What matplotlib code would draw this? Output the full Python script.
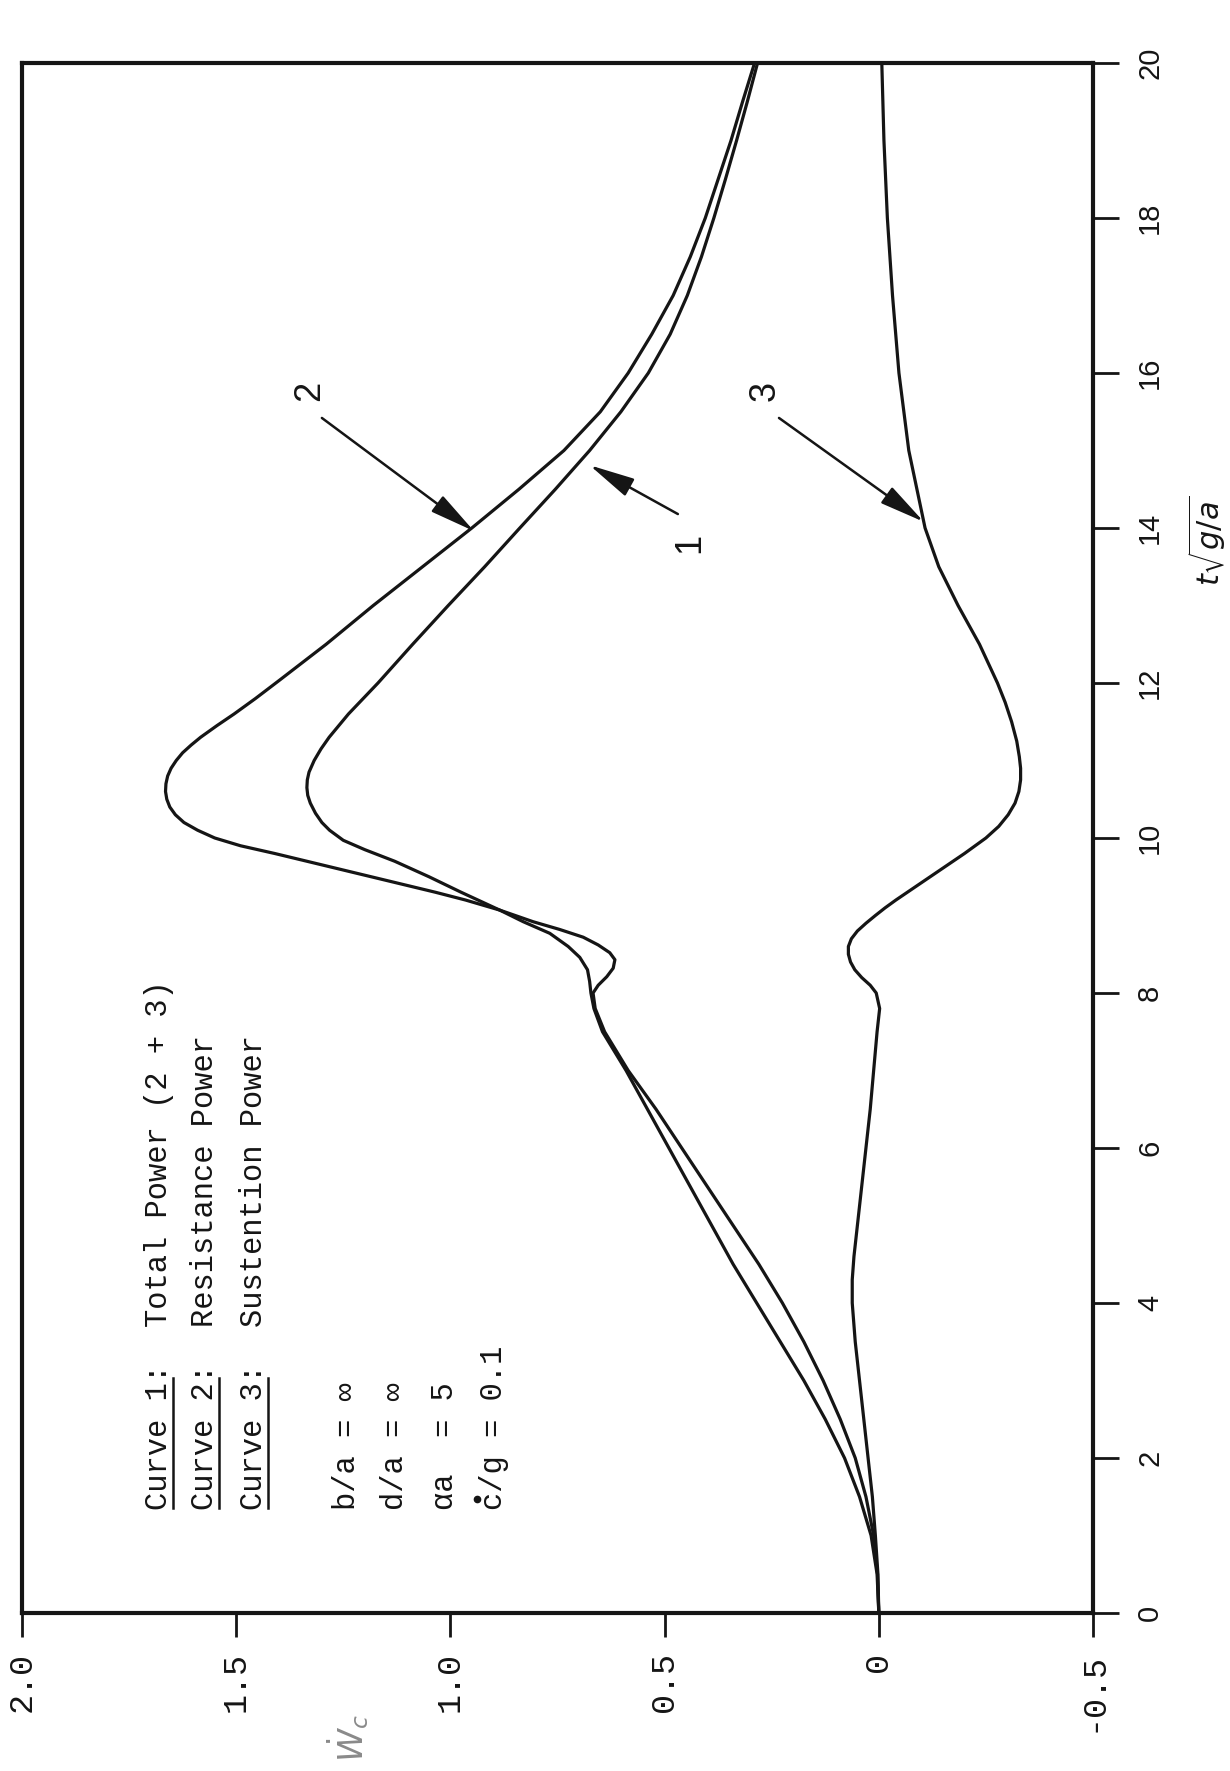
import numpy as np
import matplotlib.pyplot as plt
from matplotlib.lines import Line2D

# Curve 1: total power (2 + 3)
t_total = [0, 0.5, 1, 1.5, 2, 2.5, 3, 3.5, 4, 4.5, 5, 5.5, 6, 6.5, 7, 7.5,
           7.8, 8.0, 8.15, 8.3, 8.46, 8.6, 8.77, 8.92, 9.07, 9.3, 9.5, 9.7,
           9.85, 9.97, 10.1, 10.2, 10.32, 10.45, 10.55, 10.65, 10.75, 10.85,
           11.0, 11.15, 11.3, 11.6, 12.0, 12.5, 13, 13.5, 14, 14.5, 15, 15.5,
           16, 16.5, 17, 17.5, 18, 18.5, 19, 19.5, 20]
w_total = [0, 0.004, 0.018, 0.045, 0.08, 0.125, 0.175, 0.23, 0.285, 0.34,
           0.39, 0.44, 0.49, 0.54, 0.59, 0.645, 0.665, 0.672, 0.675, 0.68,
           0.698, 0.725, 0.768, 0.83, 0.885, 0.975, 1.05, 1.13, 1.2, 1.25,
           1.282, 1.30, 1.315, 1.327, 1.333, 1.335, 1.334, 1.33, 1.318,
           1.302, 1.283, 1.238, 1.169, 1.088, 1.005, 0.92, 0.838, 0.755,
           0.675, 0.602, 0.538, 0.487, 0.447, 0.414, 0.385, 0.358, 0.332,
           0.307, 0.283]

# Curve 2: resistance power
t_resist = [0, 0.5, 1, 1.5, 2, 2.5, 3, 3.5, 4, 4.5, 5, 5.5, 6, 6.5, 7, 7.5,
            7.8, 8.0, 8.1, 8.21, 8.32, 8.43, 8.52, 8.62, 8.72, 8.82, 8.92,
            9.07, 9.2, 9.3, 9.4, 9.5, 9.6, 9.7, 9.8, 9.9, 10.0, 10.1, 10.2,
            10.3, 10.4, 10.5, 10.6, 10.7, 10.8, 10.9, 11.0, 11.1, 11.2, 11.3,
            11.45, 11.6, 11.8, 12.04, 12.5, 13, 13.5, 14, 14.5, 15, 15.5, 16,
            16.5, 17, 17.5, 18, 18.5, 19, 19.5, 20]
w_resist = [0, 0.003, 0.012, 0.03, 0.055, 0.09, 0.13, 0.175, 0.225, 0.28,
            0.34, 0.40, 0.46, 0.52, 0.585, 0.64, 0.662, 0.667, 0.655, 0.635,
            0.62, 0.616, 0.628, 0.655, 0.69, 0.745, 0.807, 0.885, 0.965,
            1.035, 1.11, 1.185, 1.26, 1.335, 1.41, 1.49, 1.55, 1.59, 1.622,
            1.642, 1.655, 1.662, 1.665, 1.664, 1.66, 1.652, 1.64, 1.625,
            1.605, 1.583, 1.545, 1.505, 1.455, 1.398, 1.29, 1.18, 1.065, 0.95,
            0.84, 0.735, 0.65, 0.585, 0.53, 0.48, 0.44, 0.405, 0.375, 0.345,
            0.318, 0.29]

# Curve 3: sustention power
t_sust = [0, 0.5, 1, 1.5, 2, 2.5, 3, 3.5, 4, 4.3, 4.6, 5, 5.5, 6, 6.5, 7,
          7.5, 7.8, 8.0, 8.1, 8.2, 8.3, 8.4, 8.5, 8.6, 8.7, 8.8, 8.9, 9.0,
          9.1, 9.2, 9.35, 9.5, 9.65, 9.8, 10.0, 10.15, 10.3, 10.45, 10.6,
          10.75, 10.9, 11.05, 11.25, 11.5, 11.75, 12.0, 12.5, 13, 13.5, 14,
          15, 16, 17, 18, 19, 20]
w_sust = [0, 0.002, 0.008, 0.015, 0.025, 0.035, 0.045, 0.055, 0.062, 0.062,
          0.058, 0.05, 0.04, 0.03, 0.02, 0.012, 0.004, -0.002, 0.006, 0.02,
          0.04, 0.056, 0.066, 0.071, 0.071, 0.064, 0.05, 0.03, 0.008,
          -0.015, -0.04, -0.08, -0.12, -0.16, -0.2, -0.25, -0.28, -0.302,
          -0.318, -0.327, -0.331, -0.331, -0.328, -0.322, -0.31, -0.295,
          -0.277, -0.235, -0.185, -0.14, -0.108, -0.07, -0.047, -0.032,
          -0.02, -0.012, -0.007]

w_ticks = [2.0, 1.5, 1.0, 0.5, 0, -0.5]
w_labels = ['2.0', '1.5', '1.0', '0.5', '0', '-0.5']
t_ticks = [0, 2, 4, 6, 8, 10, 12, 14, 16, 18, 20]
t_labels = [str(t) for t in t_ticks]

mono = ['Liberation Mono', 'DejaVu Sans Mono']
sans = ['Liberation Sans', 'DejaVu Sans']
ink = '#151515'

W, H = 1230, 1771


def fx(x):
    return x / W


def fy(y):
    return 1 - y / H


fig = plt.figure(figsize=(12.3, 17.71), dpi=100)
ax = fig.add_axes([fx(22), fy(1613), (1093 - 22) / W, (1613 - 63) / H])

ax.plot(w_total, t_total, color=ink, lw=2.3)
ax.plot(w_resist, t_resist, color=ink, lw=2.3)
ax.plot(w_sust, t_sust, color=ink, lw=2.3)

ax.set_xlim(2.0, -0.5)
ax.set_ylim(0, 20)

for s in ax.spines.values():
    s.set_linewidth(3)
    s.set_color(ink)

ax.set_xticks(w_ticks)
ax.set_xticklabels(w_labels, rotation=90, family=mono, fontsize=24)
ax.tick_params(axis='x', direction='out', length=17, width=2, pad=11,
               colors=ink)

ax.yaxis.tick_right()
ax.set_yticks(t_ticks)
ax.set_yticklabels(t_labels, rotation=90, va='center', ha='left',
                   family=sans, fontsize=21)
ax.tick_params(axis='y', direction='out', length=19, width=2, pad=12,
               colors=ink)

# Legend block
rows = [(167, 'Curve 1:', 'Total Power (2 + 3)'),
        (213, 'Curve 2:', 'Resistance Power'),
        (262, 'Curve 3:', 'Sustention Power')]
for x, left, right in rows:
    fig.text(fx(x), fy(1510), left, rotation=90, rotation_mode='anchor',
             ha='left', va='baseline', family=mono, fontsize=22, color=ink)
    fig.text(fx(x), fy(1327), right, rotation=90, rotation_mode='anchor',
             ha='left', va='baseline', family=mono, fontsize=22, color=ink)
    fig.add_artist(Line2D([fx(x + 6), fx(x + 6)], [fy(1508), fy(1378)],
                          lw=1.8, color=ink))

params = [(355, 'b/a = \u221e'), (403, 'd/a = \u221e'),
          (453, '\u03b1a  = 5'), (502, 'c/g = 0.1')]
for x, s in params:
    fig.text(fx(x), fy(1510), s, rotation=90, rotation_mode='anchor',
             ha='left', va='baseline', family=mono, fontsize=22, color=ink)
fig.add_artist(Line2D([fx(477)], [fy(1499)], marker='o', ms=4.5,
                      color=ink, lw=0))

# Curve callouts
arrow = dict(arrowstyle='-|>,head_length=1.4,head_width=0.3',
             mutation_scale=20, lw=1.8, color=ink, shrinkA=0, shrinkB=0)
ax.annotate('', xy=(0.945, 13.96), xytext=(1.30, 15.42), arrowprops=arrow)
ax.annotate('', xy=(0.675, 14.81), xytext=(0.469, 14.18), arrowprops=arrow)
ax.annotate('', xy=(-0.105, 14.08), xytext=(0.233, 15.42), arrowprops=arrow)
for x, y, s in [(310, 391, '2'), (690, 543, '1'), (765, 391, '3')]:
    fig.text(fx(x), fy(y), s, rotation=90, ha='center', va='center',
             family=sans, fontsize=26, color=ink)

# Axis labels
fig.text(fx(1207), fy(541), r'$t\sqrt{g/a}$', rotation=90, ha='center',
         va='center', fontsize=22, color=ink)
fig.text(fx(348), fy(1738), r'$\dot{W}_c$', rotation=90, ha='center',
         va='center', fontsize=24, color='#8a8a8a')

fig.savefig('out.png', dpi=100)
